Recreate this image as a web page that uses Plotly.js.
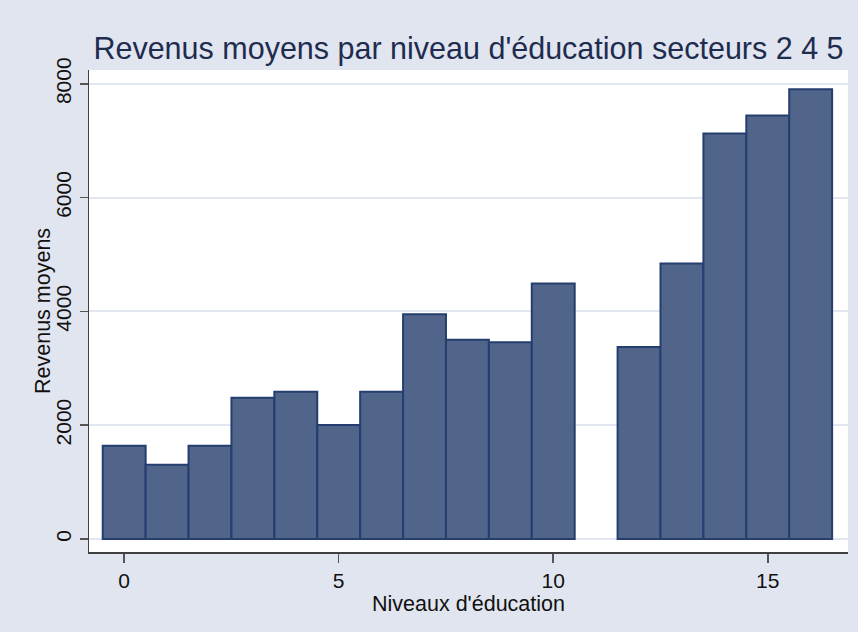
<!DOCTYPE html>
<html>
<head>
<meta charset="utf-8">
<script src="https://cdn.plot.ly/plotly-3.0.1.min.js"></script>
<style>html,body{margin:0;padding:0;background:#E1E5EF;}#chart{width:858px;height:632px;}</style>
</head>
<body>
<div id="chart"></div>
<script>
const niveaux = [0, 1, 2, 3, 4, 5, 6, 7, 8, 9, 10, 12, 13, 14, 15, 16];
const revenus = [1640, 1306, 1640, 2484, 2590, 2004, 2590, 3951, 3504, 3458, 4489, 3376, 4841, 7127, 7443, 7906];
const xTicks = [0, 5, 10, 15];
const yTicks = [0, 2000, 4000, 6000, 8000];

const font = 'Liberation Sans, Arial, Helvetica, sans-serif';

Plotly.newPlot('chart', [{
  type: 'bar',
  x: niveaux,
  y: revenus,
  width: 1,
  marker: {color: '#51658A', line: {color: '#243E6F', width: 2}},
  hoverinfo: 'x+y'
}], {
  width: 858, height: 632,
  paper_bgcolor: '#E1E5EF',
  plot_bgcolor: '#FFFFFF',
  margin: {l: 89, r: 10, t: 70, b: 80},
  showlegend: false,
  title: {text: "Revenus moyens par niveau d'éducation secteurs 2 4 5",
          font: {family: font, size: 30.5, color: '#1E2C50'},
          xref: 'paper', x: 0.5, xanchor: 'center',
          yref: 'container', y: 0.924, yanchor: 'middle'},
  xaxis: {
    range: [-0.82, 16.87],
    tickvals: xTicks, ticktext: xTicks.map(String),
    ticks: 'outside', ticklen: 9, tickwidth: 1.5, tickcolor: '#555555',
    showline: true, linecolor: '#404040', linewidth: 1.5,
    showgrid: false, zeroline: false,
    tickfont: {family: font, size: 21, color: '#111111'},
    title: {text: "Niveaux d'éducation", font: {family: font, size: 21.5, color: '#111111'}, standoff: 1}
  },
  yaxis: {
    range: [-229, 8244],
    tickvals: yTicks, ticktext: yTicks.map(String),
    tickangle: -90,
    ticks: 'outside', ticklen: 8, tickwidth: 1.5, tickcolor: '#555555',
    showline: true, linecolor: '#404040', linewidth: 1.5,
    showgrid: true, gridcolor: '#E2E6F0', gridwidth: 2, zeroline: false,
    tickfont: {family: font, size: 21, color: '#111111'}
  },
  annotations: [{
    text: 'Revenus moyens', textangle: -90,
    xref: 'paper', yref: 'paper', x: 0, y: 0.5,
    xanchor: 'center', yanchor: 'middle', xshift: -46,
    showarrow: false,
    font: {family: font, size: 21.5, color: '#111111'}
  }],
  bargap: 0
}, {displayModeBar: false, staticPlot: true});
</script>
</body>
</html>
